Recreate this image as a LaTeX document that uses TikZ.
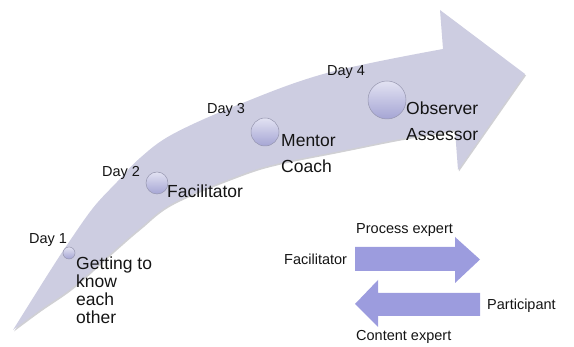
\documentclass[tikz,border=0pt]{standalone}
\usepackage{fontspec}
\setmainfont{Liberation Sans}
\definecolor{bandfill}{RGB}{205,205,225}
\definecolor{bandshadow}{RGB}{150,150,160}
\definecolor{arrowblue}{RGB}{156,156,222}
\definecolor{circtop}{RGB}{226,226,242}
\definecolor{circbot}{RGB}{165,165,212}
\definecolor{circline}{RGB}{150,150,175}
\definecolor{txt}{RGB}{20,20,20}
\tikzset{
  smalltext/.style={font=\fontsize{14.5}{17}\selectfont, anchor=base west, inner sep=0pt, text=txt},
  bigtext/.style={font=\fontsize{17.5}{21}\selectfont, anchor=base west, inner sep=0pt, text=txt},
  daydot/.style={circle, draw=circline, line width=0.5pt, top color=circtop, bottom color=circbot, inner sep=0pt},
  flatarrow/.style={fill=arrowblue, draw=none}
}
\def\bigarrowpath{plot[smooth, tension=0.6] coordinates {(13,330) (33,298) (50,271) (67,245) (93,208) (117,182) (140,158) (173,134) (240,104) (327,73) (443,49)}
  -- (440,10) -- (525,74) -- (458,170) -- (455,130)
  -- plot[smooth, tension=0.6] coordinates {(455,130) (400,139) (340,151) (280,163) (240,175) (173,203) (140,228) (110,254) (73,287) (40,310) (13,330)} -- cycle}
\begin{document}
\begin{tikzpicture}[x=1pt,y=-1pt]
\useasboundingbox (0,0) rectangle (574,347);
% big curved arrow with soft shadow
\fill[bandshadow, opacity=0.45, shift={(1,1.5)}] \bigarrowpath;
\fill[bandfill] \bigarrowpath;
% day markers
\node[daydot, minimum size=12] (c1) at (69,253) {};
\node[daydot, minimum size=22] (c2) at (157,183) {};
\node[daydot, minimum size=28] (c3) at (265,132) {};
\node[daydot, minimum size=38] (c4) at (387,100) {};
% labels
\node[smalltext] (d1) at (29,244) {Day 1};
\node[smalltext] (d2) at (102,177) {Day 2};
\node[smalltext] (d3) at (207,114) {Day 3};
\node[smalltext] (d4) at (327,76) {Day 4};
\node[bigtext] (r1a) at (76,270) {Getting to};
\node[bigtext] (r1b) at (76,288) {know};
\node[bigtext] (r1c) at (76,306) {each};
\node[bigtext] (r1d) at (76,324) {other};
\node[bigtext] (r2) at (167,198) {Facilitator};
\node[bigtext] (r3a) at (281,147) {Mentor};
\node[bigtext] (r3b) at (281,173) {Coach};
\node[bigtext] (r4a) at (406,115) {Observer};
\node[bigtext] (r4b) at (406,141) {Assessor};
% role exchange arrows
\fill[flatarrow] (355,247) -- (455,247) -- (455,237) -- (480,259.5) -- (455,283) -- (455,271) -- (355,271) -- cycle;
\fill[flatarrow] (480,293) -- (378,293) -- (378,280) -- (355,304) -- (378,327) -- (378,316) -- (480,316) -- cycle;
\node[smalltext] (pe) at (356,234) {Process expert};
\node[smalltext] (fa) at (284,265) {Facilitator};
\node[smalltext] (pa) at (487,310) {Participant};
\node[smalltext] (ce) at (356,341) {Content expert};
\end{tikzpicture}
\end{document}
